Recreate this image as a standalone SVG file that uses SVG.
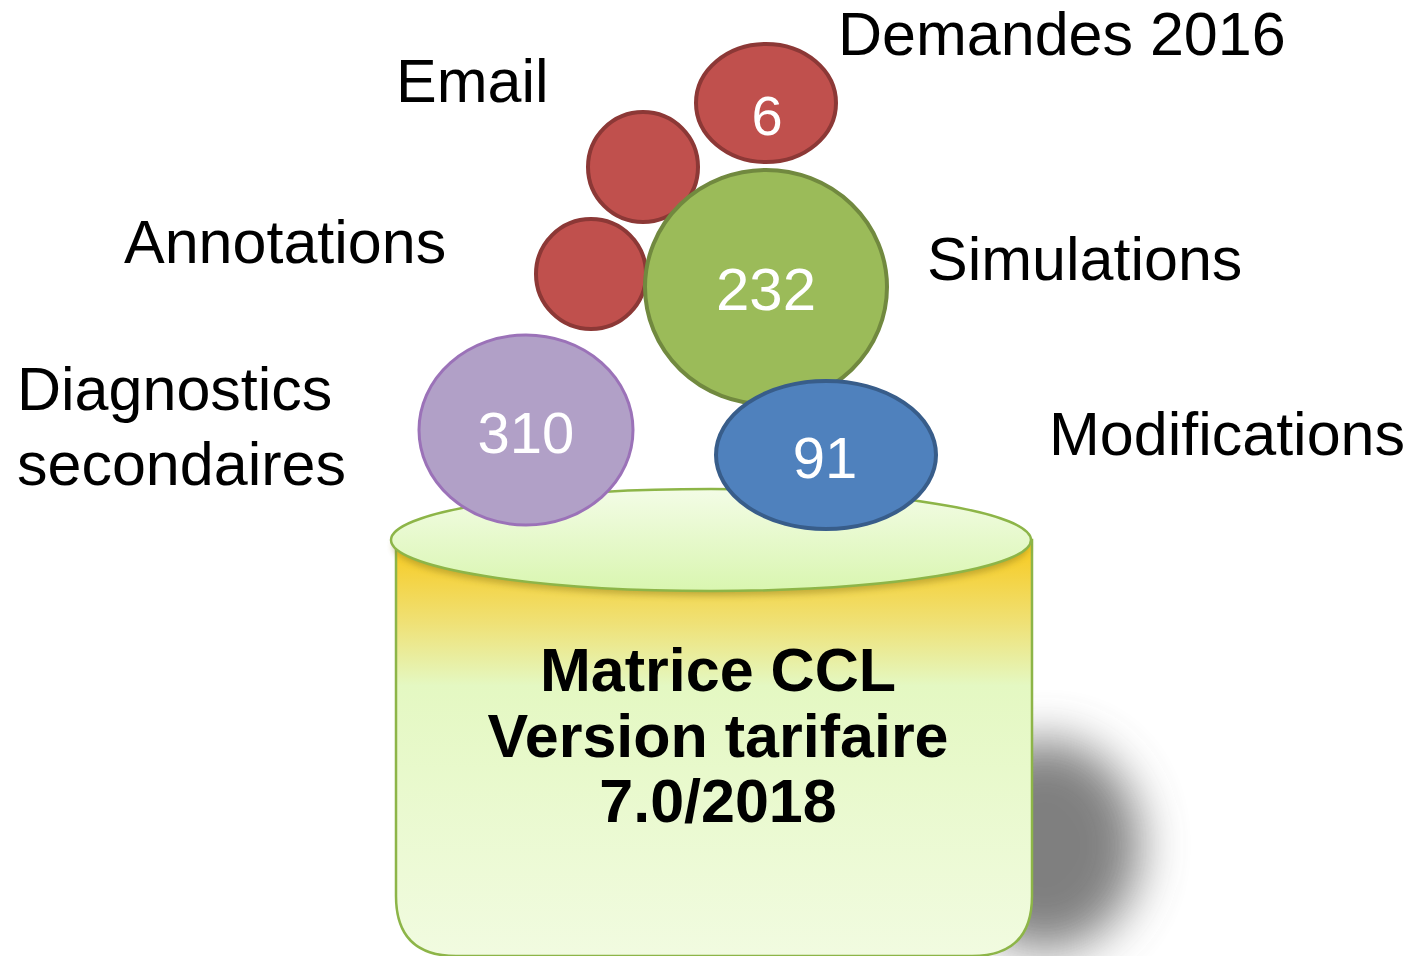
<svg xmlns="http://www.w3.org/2000/svg" width="1410" height="956" viewBox="0 0 1410 956">
<defs>
<style>
.lbl{font-family:"Liberation Sans",Arial,sans-serif;font-size:61px;fill:#000}
.num{font-family:"Liberation Sans",Arial,sans-serif;fill:#fff;text-anchor:middle}
.red{fill:#c0504d;stroke:#8c3836;stroke-width:4}
.mid{font-family:"Liberation Sans",Arial,sans-serif;font-weight:bold;font-size:61px;fill:#000;text-anchor:middle}
</style>
<linearGradient id="body" x1="0" y1="0" x2="0" y2="1" gradientUnits="objectBoundingBox">
<stop offset="0" stop-color="#f8c81a"/>
<stop offset="0.2" stop-color="#efe176"/>
<stop offset="0.35" stop-color="#e4f8c2"/>
<stop offset="1" stop-color="#f1fbe0"/>
</linearGradient>
<linearGradient id="top" x1="0" y1="0" x2="0" y2="1">
<stop offset="0" stop-color="#f3fce6"/>
<stop offset="1" stop-color="#d9f6b0"/>
</linearGradient>
<filter id="blur" x="-50%" y="-50%" width="200%" height="200%"><feGaussianBlur stdDeviation="24"/></filter>
<filter id="soft" x="-10%" y="-10%" width="120%" height="130%"><feGaussianBlur stdDeviation="3"/></filter>
</defs>
<rect width="1410" height="956" fill="#fff"/>
<g id="shadow">
<ellipse cx="1045" cy="845" rx="95" ry="105" fill="#555" opacity="0.75" filter="url(#blur)"/>
</g>
<g id="cylinder">
<path d="M396,540 L396,896 Q396,956 456,956 L972,956 Q1032,956 1032,896 L1032,540 Z" fill="url(#body)" stroke="#8db548" stroke-width="2.5"/>
<ellipse cx="711" cy="546" rx="318" ry="50" fill="#8a7a20" opacity="0.45" filter="url(#soft)"/>
<ellipse cx="711" cy="540" rx="320" ry="51" fill="url(#top)" stroke="#8db548" stroke-width="2.5"/>
<text class="mid" x="718" y="691">Matrice CCL</text>
<text class="mid" x="718" y="757">Version tarifaire</text>
<text class="mid" x="718" y="822">7.0/2018</text>
</g>
<g id="n-diag">
<ellipse cx="526" cy="430" rx="107" ry="95" fill="#b1a0c7" stroke="#9b72b8" stroke-width="3"/>
<text class="num" x="526" y="453" font-size="58">310</text>
<text class="lbl" x="17" y="410">Diagnostics</text>
<text class="lbl" x="17" y="485">secondaires</text>
</g>
<g id="n-annot">
<circle cx="591" cy="274" r="55" class="red"/>
<text class="lbl" x="124" y="263">Annotations</text>
</g>
<g id="n-email">
<circle cx="643" cy="167" r="55" class="red"/>
<text class="lbl" x="396" y="102">Email</text>
</g>
<g id="n-sim">
<ellipse cx="766" cy="287" rx="121" ry="117" fill="#9bbb59" stroke="#71893f" stroke-width="4"/>
<text class="num" x="766" y="310" font-size="60">232</text>
<text class="lbl" x="927" y="280">Simulations</text>
</g>
<g id="n-dem">
<ellipse cx="766" cy="103" rx="70" ry="59" class="red"/>
<text class="num" x="767" y="135" font-size="56">6</text>
<text class="lbl" x="838" y="55">Demandes 2016</text>
</g>
<g id="n-mod">
<ellipse cx="826" cy="455" rx="110" ry="74" fill="#4f81bd" stroke="#385d8a" stroke-width="4"/>
<text class="num" x="825" y="478" font-size="58">91</text>
<text class="lbl" x="1049" y="455">Modifications</text>
</g>
<g id="connectors"/>
</svg>
